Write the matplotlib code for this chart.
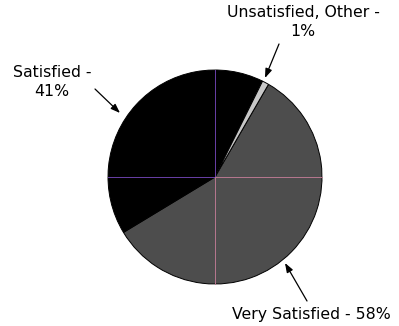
import numpy as np
import matplotlib.pyplot as plt

labels = ['Very Satisfied', 'Satisfied', 'Unsatisfied, Other']
values = [58, 41, 1]
colors = ['#4d4d4d', '#000000', '#c8c8c8']
# join between name and percentage
seps = [' - ', ' -\n', ' -\n']

W, H = 399, 326
fig = plt.figure(figsize=(W / 100, H / 100), dpi=100)
ax = fig.add_axes([0, 0, 1, 1])

cx, cy, r = 215, H - 177, 107
ax.pie(values, colors=colors, startangle=60, counterclock=False,
       center=(cx, cy), radius=r, frame=True,
       wedgeprops=dict(edgecolor='black', linewidth=0.7))
ax.set_xlim(0, W)
ax.set_ylim(0, H)
ax.set_aspect('equal')
ax.axis('off')

# thin cross through the centre
ax.plot([cx - r, cx], [cy, cy], color='#6a3fa8', lw=0.7, zorder=3)
ax.plot([cx, cx], [cy, cy + r], color='#6a3fa8', lw=0.7, zorder=3)
ax.plot([cx, cx + r], [cy, cy], color='#b87890', lw=0.7, zorder=3)
ax.plot([cx, cx], [cy - r, cy], color='#b87890', lw=0.7, zorder=3)

# label positions (text centre) and arrow tail/head
text_pos = [(311, H - 315), (52, H - 82), (303, H - 22)]
arrows = [((307, H - 301), (285, H - 263)),
          ((95, H - 89), (120, H - 113)),
          ((279, H - 44), (265, H - 78))]

for lab, val, sep, (tx, ty), (tail, head) in zip(labels, values, seps, text_pos, arrows):
    ax.text(tx, ty, f'{lab}{sep}{val}%', ha='center', va='center',
            fontsize=11.3, linespacing=1.3, family='DejaVu Sans')
    ax.annotate('', xy=head, xytext=tail,
                arrowprops=dict(arrowstyle='-|>,head_length=0.55,head_width=0.2',
                                color='black', lw=0.9, shrinkA=0, shrinkB=0))

fig.savefig('out.png', dpi=100)
